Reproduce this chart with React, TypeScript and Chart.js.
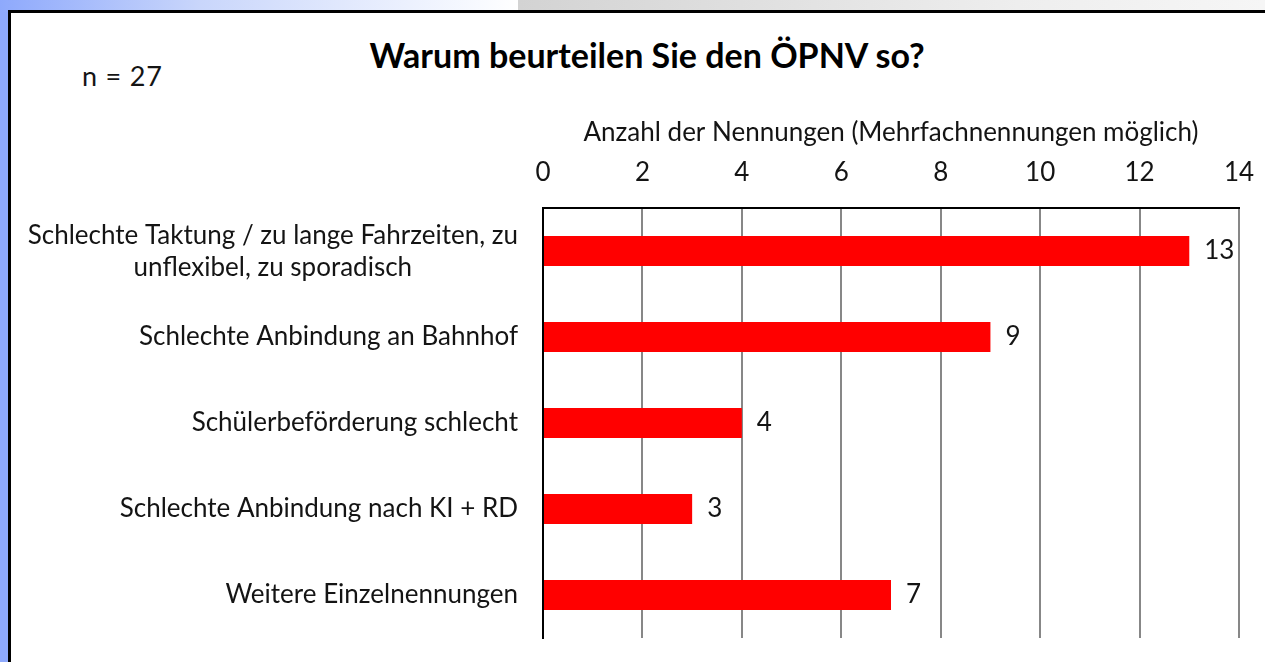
import React, { useEffect, useRef } from "react";
import { Chart, registerables } from "chart.js";

Chart.register(...registerables);

const categories: string[][] = [
  ["Schlechte Taktung / zu lange Fahrzeiten, zu", "unflexibel, zu sporadisch"],
  ["Schlechte Anbindung an Bahnhof"],
  ["Schülerbeförderung schlecht"],
  ["Schlechte Anbindung nach KI + RD"],
  ["Weitere Einzelnennungen"],
];
const values: number[] = [13, 9, 4, 3, 7];
const xMin = 0;
const xMax = 14;
const xStep = 2;
const titleText = "Warum beurteilen Sie den ÖPNV so?";
const sampleText = "n = 27";
const axisTitle = "Anzahl der Nennungen (Mehrfachnennungen möglich)";

const FONT = "Lato, 'Open Sans', sans-serif";
const TEXT = "#141414";
const FS = 26;

export default function App() {
  const ref = useRef<HTMLCanvasElement | null>(null);

  useEffect(() => {
    if (!ref.current) return;

    const labelPlugin = {
      id: "catLabels",
      afterDraw(chart: any) {
        const ctx = chart.ctx;
        const y = chart.scales.y;
        const right = chart.chartArea.left - 25;
        const lh = 32;
        ctx.save();
        ctx.font = `${FS}px ${FONT}`;
        ctx.fillStyle = TEXT;
        ctx.textAlign = "center";
        ctx.textBaseline = "middle";
        categories.forEach((lines, i) => {
          const cy = y.getPixelForValue(i);
          const w = Math.max(...lines.map((l) => ctx.measureText(l).width));
          const cx = right - w / 2;
          const start = cy - ((lines.length - 1) * lh) / 2 + (lines.length > 1 ? 1 : 0);
          lines.forEach((l, j) => ctx.fillText(l, cx, start + j * lh));
        });
        ctx.restore();
      },
    };

    const valuePlugin = {
      id: "valueLabels",
      afterDatasetsDraw(chart: any) {
        const ctx = chart.ctx;
        const meta = chart.getDatasetMeta(0);
        ctx.save();
        ctx.font = `${FS}px ${FONT}`;
        ctx.fillStyle = TEXT;
        ctx.textAlign = "left";
        ctx.textBaseline = "middle";
        meta.data.forEach((el: any, i: number) => {
          ctx.fillText(String(values[i]), el.x + 15, el.y);
        });
        ctx.restore();
      },
    };

    const chart = new Chart(ref.current, {
      type: "bar",
      data: {
        labels: categories.map((c) => c.join(" ")),
        datasets: [
          {
            data: values,
            backgroundColor: "#FF0000",
            borderWidth: 0,
            barPercentage: 0.35,
            categoryPercentage: 1,
          },
        ],
      },
      options: {
        indexAxis: "y",
        animation: false,
        responsive: true,
        maintainAspectRatio: false,
        layout: { padding: { top: 110, right: 26, bottom: 24, left: 0 } },
        plugins: {
          legend: { display: false },
          title: { display: false },
          tooltip: { enabled: false },
        },
        scales: {
          x: {
            position: "top",
            min: xMin,
            max: xMax,
            ticks: {
              stepSize: xStep,
              padding: 20,
              color: TEXT,
              font: { family: FONT, size: FS },
            },
            grid: {
              drawTicks: false,
              lineWidth: 2,
              color: (c: any) => (c.tick && c.tick.value === 0 ? "rgba(0,0,0,0)" : "#878787"),
            },
            border: { display: true, color: "#000000", width: 2 },
            title: {
              display: true,
              text: axisTitle,
              color: TEXT,
              font: { family: FONT, size: FS },
              padding: { top: 7, bottom: 0 },
            },
            afterFit: (s: any) => {
              s.height = 98;
              s.paddingLeft = 0;
              s.paddingRight = 0;
            },
          },
          y: {
            ticks: { display: false },
            grid: { display: false, drawTicks: false },
            border: { display: true, color: "#000000", width: 2 },
            afterFit: (s: any) => {
              s.width = 543;
            },
          },
        },
      } as any,
      plugins: [labelPlugin, valuePlugin],
    });

    return () => chart.destroy();
  }, []);

  return (
    <div
      style={{
        position: "fixed",
        left: 0,
        top: 0,
        width: 1265,
        height: 662,
        overflow: "hidden",
        background: "#8EA9FC",
      }}
    >
      <div
        style={{
          position: "absolute",
          left: 0,
          top: 0,
          width: 518,
          height: 12,
          background: "linear-gradient(to right, #8EA9FC 0px, #c9d6fb 200px, #f8faff 480px, #ffffff 518px)",
        }}
      />
      <div
        style={{
          position: "absolute",
          left: 518,
          top: 0,
          width: 747,
          height: 12,
          background: "linear-gradient(to right, #d3d3d3 0px, #eeeeee 500px, #f6f6f6 747px)",
        }}
      />
      <div
        style={{
          position: "absolute",
          left: 8,
          top: 10,
          width: 1300,
          height: 700,
          borderTop: "3px solid #000",
          borderLeft: "3px solid #000",
          background: "#ffffff",
          boxSizing: "border-box",
        }}
      />
      <div
        style={{
          position: "absolute",
          left: 82,
          top: 60,
          fontFamily: FONT,
          fontSize: 27,
          lineHeight: "32px",
          color: TEXT,
          whiteSpace: "nowrap",
          letterSpacing: "0.8px",
        }}
      >
        {sampleText}
      </div>
      <div
        style={{
          position: "absolute",
          left: 647,
          top: 35,
          transform: "translateX(-50%)",
          fontFamily: FONT,
          fontWeight: 700,
          fontSize: 34,
          lineHeight: "40px",
          color: "#000",
          whiteSpace: "nowrap",
        }}
      >
        {titleText}
      </div>
      <div style={{ position: "absolute", left: 0, top: 0, width: 1265, height: 662 }}>
        <canvas ref={ref} />
      </div>
    </div>
  );
}
